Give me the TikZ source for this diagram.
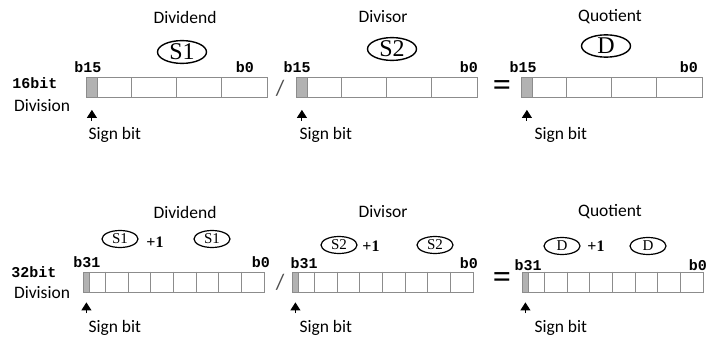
\documentclass[tikz,border=0pt]{standalone}
\usepackage{fontspec}
\setmainfont{Carlito}
\newfontfamily\bitfont{Liberation Mono}
\newfontfamily\regnamefont{Liberation Serif}
\usetikzlibrary{arrows.meta, positioning, shapes.geometric}

\begin{document}
\begin{tikzpicture}[x=1pt, y=-1pt,
        reg/.style={rectangle, draw=black!45, line width=0.8pt, minimum width=181pt, minimum height=20pt, inner sep=0pt, anchor=west},
        signcell/.style={rectangle, draw=black!45, fill=black!30, line width=0.8pt, minimum height=20pt, inner sep=0pt, anchor=west},
        cell/.style={draw=black!45, line width=0.8pt},
        caption/.style={font=\fontsize{17.5}{17.5}\selectfont},
        bitno/.style={font=\bitfont\bfseries\fontsize{15}{15}\selectfont, inner sep=0pt},
        opbig/.style={ellipse, draw, line width=1.4pt, minimum width=49pt, minimum height=21pt, inner sep=0pt, font=\regnamefont\fontsize{24}{24}\selectfont},
        opsmall/.style={ellipse, draw, line width=1.2pt, minimum width=36pt, minimum height=17pt, inner sep=0pt, font=\regnamefont\fontsize{15}{15}\selectfont},
        plusone/.style={font=\regnamefont\bfseries\fontsize{16}{16}\selectfont},
        slashop/.style={font=\fontsize{22}{22}\selectfont, text=black!70},
        equalop/.style={font=\regnamefont\bfseries\fontsize{32}{32}\selectfont},
        signarrow/.style={-{Triangle[width=10pt, length=8pt]}, line width=0.9pt}
    ]
    \useasboundingbox (0,0) rectangle (708,342);

    % 16bit division
    \node[caption] (dvd1) at (185,17) {Dividend};
    \node[caption] (dvs1) at (383,17) {Divisor};
    \node[caption] (quo1) at (610,17) {Quotient};
    \node[opbig] (s1) at (182,52) {S1};
    \node[opbig] (s2) at (392,49) {S2};
    \node[opbig] (d) at (606,46) {D};
    \node[bitno] (w16) at (35,83) {16bit};
    \node[caption] (div16) at (42,106) {Division};

    \foreach \x/\name in {86/ra, 296/rb, 521/rc} {
        \node[reg] (\name) at (\x,87.5) {};
        \node[signcell, minimum width=11pt] (\name-sign) at (\x,87.5) {};
        \foreach \i in {1,2,3}
            \draw[cell] ([xshift=\i*45.25pt]\name.north west) -- ([xshift=\i*45.25pt]\name.south west);
        \draw[signarrow] ([yshift=-23pt]\name-sign.south) -- ([yshift=-12pt]\name-sign.south);
    }

    \node[bitno] (ra-msb) at (88,67) {b15};
    \node[bitno, anchor=east] (ra-lsb) at (254,67) {b0};
    \node[bitno] (rb-msb) at (297,67) {b15};
    \node[bitno, anchor=east] (rb-lsb) at (478,67) {b0};
    \node[bitno] (rc-msb) at (523,67) {b15};
    \node[bitno, anchor=east] (rc-lsb) at (698,67) {b0};
    \node[slashop] (sl1) at (280,88) {/};
    \node[equalop] (eq1) at (502,88) {=};
    \node[caption, anchor=west] (sg1) at (85,135) {Sign bit};
    \node[caption, anchor=west] (sg2) at (296,135) {Sign bit};
    \node[caption, anchor=west] (sg3) at (531,135) {Sign bit};

    % 32bit division
    \node[caption] (dvd2) at (185,212) {Dividend};
    \node[caption] (dvs2) at (383,212) {Divisor};
    \node[caption] (quo2) at (610,212) {Quotient};
    \node[opsmall] (s1h) at (120,239) {S1};
    \node[plusone] (p1) at (155,242) {+1};
    \node[opsmall] (s1l) at (212,239) {S1};
    \node[opsmall] (s2h) at (339,245) {S2};
    \node[plusone] (p2) at (371,246) {+1};
    \node[opsmall] (s2l) at (435,245) {S2};
    \node[opsmall] (dh) at (562,246) {D};
    \node[plusone] (p3) at (596,246) {+1};
    \node[opsmall] (dl) at (648,246) {D};
    \node[bitno] (w32) at (34,272) {32bit};
    \node[caption] (div32) at (42,293) {Division};

    \foreach \x/\name in {83/rd, 292/re, 522/rf} {
        \node[reg] (\name) at (\x,282) {};
        \node[signcell, minimum width=6pt] (\name-sign) at (\x,282) {};
        \foreach \i in {1,...,7}
            \draw[cell] ([xshift=\i*22.625pt]\name.north west) -- ([xshift=\i*22.625pt]\name.south west);
        \draw[signarrow] ([yshift=-21pt]\name-sign.south) -- ([yshift=-10pt]\name-sign.south);
    }

    \node[bitno] (rd-msb) at (87,262) {b31};
    \node[bitno, anchor=east] (rd-lsb) at (270,262) {b0};
    \node[bitno] (re-msb) at (304,263) {b31};
    \node[bitno, anchor=east] (re-lsb) at (478,263) {b0};
    \node[bitno] (rf-msb) at (528,265) {b31};
    \node[bitno, anchor=east] (rf-lsb) at (707,265) {b0};
    \node[slashop] (sl2) at (280,282) {/};
    \node[equalop] (eq2) at (502,280) {=};
    \node[caption, anchor=west] (sg4) at (85,328) {Sign bit};
    \node[caption, anchor=west] (sg5) at (296,328) {Sign bit};
    \node[caption, anchor=west] (sg6) at (531,328) {Sign bit};
\end{tikzpicture}
\end{document}
